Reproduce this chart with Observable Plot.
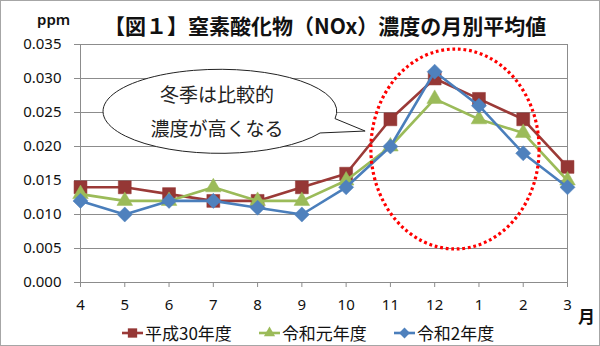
<!DOCTYPE html>
<html><head><meta charset="utf-8">
<script src="https://cdn.jsdelivr.net/npm/d3@7"></script>
<script src="https://cdn.jsdelivr.net/npm/@observablehq/plot@0.6"></script>
<style>
body{margin:0;background:#fff;}
#wrap{position:relative;width:600px;height:346px;overflow:hidden;background:#fff;font-family:"Noto Sans CJK JP","Noto Sans",sans-serif;}
#chart{position:absolute;left:0;top:0;}
#frame{position:absolute;left:0;top:0;width:598px;height:344px;border:1px solid #a6a6a6;pointer-events:none;}
.title{position:absolute;left:104px;top:9px;font-size:21px;font-weight:bold;color:#111;line-height:32px;white-space:nowrap;}
.unit{position:absolute;font-weight:600;color:#111;white-space:nowrap;}
#legend{position:absolute;left:122px;top:321px;display:flex;gap:27px;font-size:17px;line-height:24px;height:24px;color:#111;}
#legend .item{display:flex;align-items:center;gap:2px;}
</style>
</head><body>
<div id="wrap">
  <div id="chart"></div>
  <div class="title">【図１】窒素酸化物（NOx）濃度の月別平均値</div>
  <div class="unit" style="left:37px;top:9px;font-size:15px;font-family:'Noto Sans',sans-serif;">ppm</div>
  <div class="unit" style="left:578px;top:303px;font-size:17px;">月</div>
  <div id="legend"></div>
  <div id="frame"></div>
</div>
<script>
// ---- data ----
const months = ["4","5","6","7","8","9","10","11","12","1","2","3"];
const seriesNames = ["平成30年度","令和元年度","令和2年度"];
const h30 = [0.014,0.014,0.013,0.012,0.012,0.014,0.016,0.024,0.030,0.027,0.024,0.017];
const r1  = [0.013,0.012,0.012,0.014,0.012,0.012,0.015,0.020,0.027,0.024,0.022,0.015];
const r2  = [0.012,0.010,0.012,0.012,0.011,0.010,0.014,0.020,0.031,0.026,0.019,0.014];
const yTicks = [0,0.005,0.010,0.015,0.020,0.025,0.030,0.035];
const bubbleLines = ["冬季は比較的","濃度が高くなる"];

// ---- styles ----
const styles = [
  {stroke:"#9b3a37", fill:"#953735", symbol:"square", r:7.3},
  {stroke:"#9bbb59", fill:"#9bbb59", symbol:"triangle", r:5.8},
  {stroke:"#4a7ebb", fill:"#4f81bd", symbol:"diamond2", r:6.8}
];
const values = [h30, r1, r2];
const data = values.map((arr, s) => arr.map((v, i) => ({i, v, s: seriesNames[s]})));

const marks = [
  Plot.gridY(yTicks, {stroke:"#8c8c8c", strokeOpacity:1}),
  Plot.frame({stroke:"#8c8c8c"}),
  Plot.axisY({ticks:yTicks, tickFormat:d3.format(".3f"), tickSize:6, tickPadding:13, stroke:"#8c8c8c", label:null}),
  Plot.axisX({ticks:d3.range(months.length), tickFormat:i => months[i], tickSize:5, tickPadding:12, stroke:"#8c8c8c", label:null})
];
data.forEach((d, s) => {
  const st = styles[s];
  marks.push(Plot.line(d, {x:"i", y:"v", stroke:st.stroke, strokeWidth:2.6}));
  marks.push(Plot.dot(d, {x:"i", y:"v", fill:st.fill, stroke:st.fill, strokeWidth:0.5, symbol:st.symbol, r:st.r}));
});

const chart = Plot.plot({
  width:600, height:346,
  marginLeft:80, marginRight:33, marginTop:44, marginBottom:64,
  style:{fontFamily:"'Noto Sans',sans-serif", fontSize:"15px", color:"#111", background:"transparent"},
  x:{type:"linear", domain:[0, months.length-1], axis:null},
  y:{domain:[0,0.035], axis:null},
  marks
});
document.getElementById("chart").appendChild(chart);

// ---- annotations (positioned in data space) ----
const sx = chart.scale("x"), sy = chart.scale("y");
const svg = d3.select(chart);
const X = v => sx.apply(v), Y = v => sy.apply(v);
// speech bubble
const bub = {x:3.16, y:0.0251, rx:2.64, ry:0.00618, tipX:6.44, tipY:0.0222, a0:31, a1:10};
const cx = X(bub.x), cy = Y(bub.y), rx = X(bub.x+bub.rx)-cx, ry = cy - Y(bub.y+bub.ry);
const pt = a => [cx + rx*Math.cos(a*Math.PI/180), cy + ry*Math.sin(a*Math.PI/180)];
const p0 = pt(bub.a0), p1 = pt(bub.a1);
svg.append("path")
  .attr("d", `M${p0}A${rx},${ry} 0 1 1 ${p1}L${X(bub.tipX)},${Y(bub.tipY)}Z`)
  .attr("fill","#fff").attr("stroke","#222").attr("stroke-width",1);
bubbleLines.forEach((t, k) => {
  svg.append("text").attr("x", cx-3).attr("y", cy + (k === 0 ? -18 : 16))
    .attr("text-anchor","middle").attr("dominant-baseline","central")
    .attr("font-family","'Noto Sans CJK JP',sans-serif").attr("font-size",19).attr("fill","#222")
    .text(t);
});
// red dotted ellipse
const ell = {x:8.47, y:0.01956, rx:1.90, ry:0.0147};
svg.append("ellipse")
  .attr("cx", X(ell.x)).attr("cy", Y(ell.y))
  .attr("rx", X(ell.x+ell.rx)-X(ell.x)).attr("ry", Y(ell.y)-Y(ell.y+ell.ry))
  .attr("fill","none").attr("stroke","#ff0000").attr("stroke-width",3.2).attr("stroke-dasharray","2.8 2.8");

// ---- legend ----
const legend = d3.select("#legend");
seriesNames.forEach((name, s) => {
  const st = styles[s];
  const it = legend.append("div").attr("class","item");
  const sw = it.append("svg").attr("width",21).attr("height",16);
  sw.append("line").attr("x1",0).attr("x2",21).attr("y1",8).attr("y2",8).attr("stroke",st.stroke).attr("stroke-width",2.6);
  const sym = {square:d3.symbolSquare, triangle:d3.symbolTriangle, diamond2:d3.symbolDiamond2}[st.symbol];
  sw.append("path").attr("transform","translate(10.5,8)")
    .attr("d", d3.symbol(sym, Math.PI*(st.r*0.72)**2)()).attr("fill",st.fill);
  it.append("span").text(name);
});
</script>
</body></html>
